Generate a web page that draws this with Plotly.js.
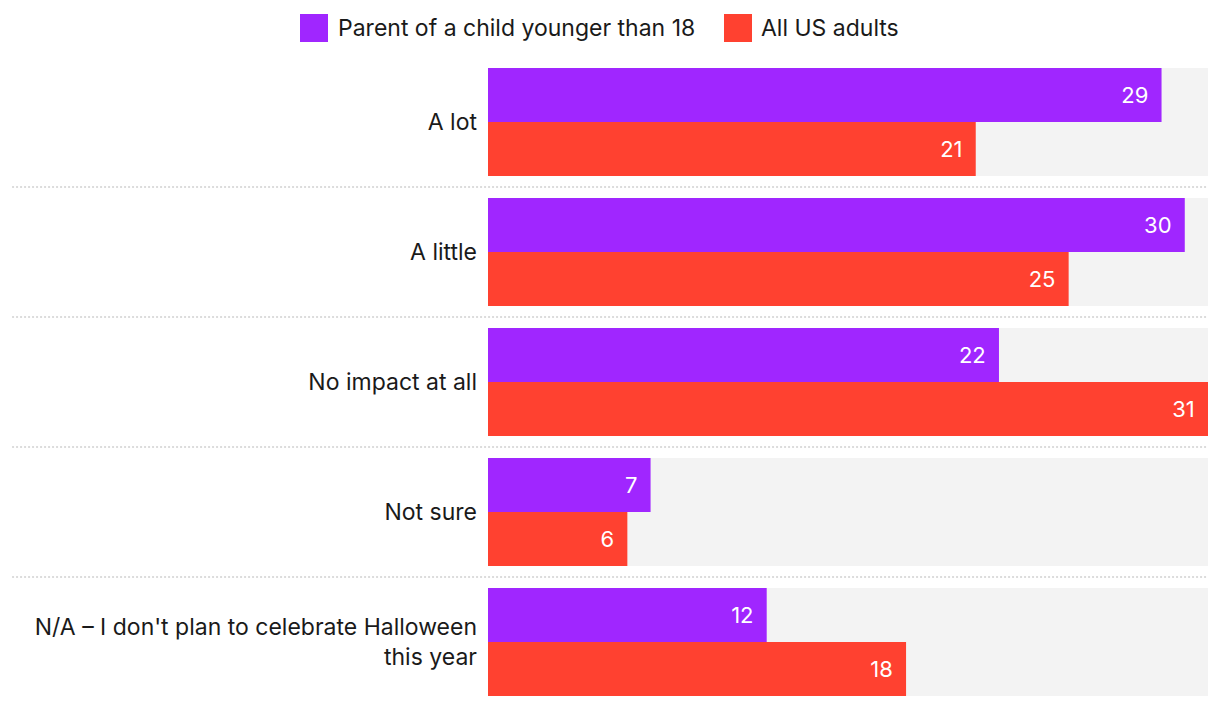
<!DOCTYPE html>
<html>
<head>
<meta charset="utf-8">
<script src="https://cdn.plot.ly/plotly-3.0.1.min.js"></script>
<style>html,body{margin:0;padding:0;background:#fff;}#chart{width:1220px;height:708px;}</style>
</head>
<body>
<div id="chart"></div>
<script>
const categories = ["A lot", "A little", "No impact at all", "Not sure", "N/A – I don't plan to celebrate Halloween<br>this year"];
const seriesNames = ["Parent of a child younger than 18", "All US adults"];
const parentValues = [29, 30, 22, 7, 12];
const adultValues = [21, 25, 31, 6, 18];

const colors = ["#A026FF", "#FF4130"];
const FONT = "Inter, 'Open Sans', sans-serif";
const maxVal = Math.max(...parentValues, ...adultValues);
const bargap = 22 / 130;
const half = (1 - bargap) / 2;

const mkTrace = (vals, i) => ({
  type: "bar", orientation: "h",
  x: vals, y: categories, name: seriesNames[i],
  marker: {color: colors[i]},
  text: vals.map(v => String(v)),
  texttemplate: "%{text}\u00a0\u2009",
  textposition: "inside", insidetextanchor: "end",
  textfont: {color: "#ffffff", size: 22, family: FONT},
  hoverinfo: "skip", showlegend: false, cliponaxis: false
});

const shapes = [];
categories.forEach((c, i) => {
  shapes.push({type: "rect", xref: "x", yref: "y", x0: 0, x1: maxVal, y0: i - half, y1: i + half,
    fillcolor: "#F3F3F3", line: {width: 0}, layer: "below"});
  if (i < categories.length - 1) {
    shapes.push({type: "line", xref: "paper", yref: "y", x0: -0.661, x1: 1, y0: i + 0.5, y1: i + 0.5,
      line: {color: "#DCDCDC", width: 2, dash: "2px,2px"}});
  }
});

// custom legend
const legendItems = [
  {x0: -0.2611, x1: -0.2222, tx: -0.2111},
  {x0: 0.3278, x1: 0.3667, tx: 0.3764}
];
const annotations = [];
legendItems.forEach((it, i) => {
  shapes.push({type: "rect", xref: "paper", yref: "paper", x0: it.x0, x1: it.x1, y0: 1.0414, y1: 1.086,
    fillcolor: colors[i], line: {width: 0}});
  annotations.push({xref: "paper", yref: "paper", x: it.tx, y: 1.0637, xanchor: "left", yanchor: "middle",
    text: seriesNames[i], showarrow: false, font: {size: 23, color: "#1a1a1a", family: FONT}});
});

const layout = {
  width: 1220, height: 708,
  margin: {l: 488, r: 12, t: 68, b: 12, pad: 0},
  paper_bgcolor: "#ffffff", plot_bgcolor: "#ffffff",
  barmode: "group", bargap: bargap, bargroupgap: 0,
  font: {family: FONT, size: 23, color: "#1a1a1a"},
  xaxis: {range: [0, maxVal], showgrid: false, zeroline: false, showticklabels: false, ticks: "", fixedrange: true},
  yaxis: {type: "category", categoryorder: "array", categoryarray: categories,
    range: [categories.length - 1 + half, -half], showgrid: false, zeroline: false,
    ticks: "", ticklabelstandoff: 10, tickfont: {size: 23, color: "#1a1a1a", family: FONT}, fixedrange: true},
  shapes: shapes, annotations: annotations,
  showlegend: false,
  uniformtext: {mode: false}
};

Plotly.newPlot("chart", [mkTrace(parentValues, 0), mkTrace(adultValues, 1)], layout, {displayModeBar: false, staticPlot: true});
</script>
</body>
</html>
